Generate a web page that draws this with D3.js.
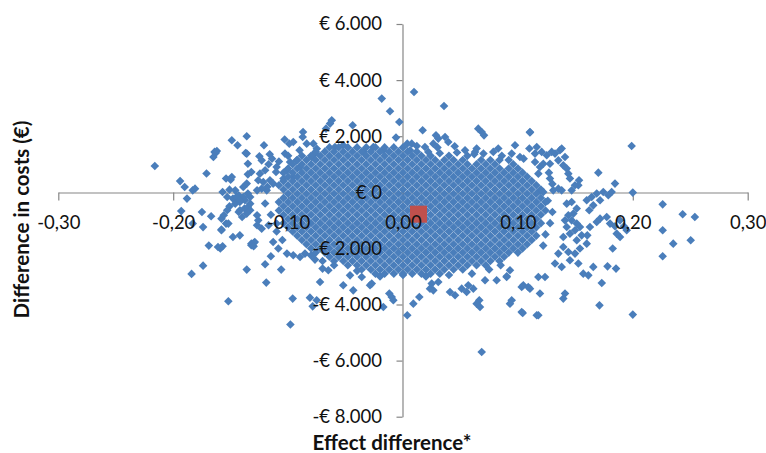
<!DOCTYPE html>
<html>
<head>
<meta charset="utf-8">
<script src="https://cdn.jsdelivr.net/npm/d3@7"></script>
<style>
  body { margin: 0; background: #fff; }
  svg { display: block; }
</style>
</head>
<body>
<svg id="chart" width="766" height="453"></svg>
<script>
// axis ticks
var xTicks = [-0.3, -0.2, -0.1, 0, 0.1, 0.2, 0.3];
var yTicks = [-8000, -6000, -4000, -2000, 0, 2000, 4000, 6000];

// mean of the bootstrap replications (red square)
var meanEffect = 0.0135;
var meanCost = -780;

// scattered replications read one by one: [effect difference, cost difference]
var outerPoints = [
  [-.216,940],[-.194,400],[-.190,190],[-.183,70],[-.181,130],[-.188,-225],[-.193,-670],[-.175,-700],[-.167,-855],
  [-.174,-1240],[-.183,-1115],[-.169,-1900],[-.159,-2005],[-.157,-1925],[-.161,-1950],[-.174,-2615],[-.184,-2910],
  [-.136,-2755],[-.152,-3885],[-.171,670],[-.164,1440],[-.162,1470],[-.149,1855],[-.144,1675],[-.136,2000],
  [-.136,1380],[-.135,1020],[-.154,490],[-.150,450],[-.157,10],[-.151,95],[-.146,70],[-.139,190],[-.136,310],
  [-.153,-170],[-.148,-225],[-.143,-105],[-.139,-170],[-.135,-45],[-.151,-500],[-.146,-405],[-.142,-345],
  [-.138,-580],[-.135,-525],[-.136,-760],[-.140,-880],[-.143,-700],[-.158,-940],[-.154,-1115],[-.158,-1330],
  [-.148,-1595],[-.142,-1535],[-.132,-1890],[-.130,-1805],[-.127,-1175],[-.126,-1000],
  [-.165,1260],[-.163,1400],[-.149,545],[-.137,1400],[-.135,640],[-.132,725],
  [-.125,1285],[-.123,1140],[-.116,1355],[-.114,1200],[-.110,900],[-.1105,725],[-.117,1000],[-.120,785],
  [-.1245,665],[-.126,430],[-.1216,365],[-.1158,430],[-.113,310],[-.1186,70],[-.123,130],[-.127,70],[-.121,1675],
  [-.103,1880],[-.099,1735],[-.0955,1795],[-.1027,1380],[-.0983,1080],[-.0925,1140],[-.101,785],[-.104,490],
  [-.0955,545],[-.0896,900],[-.087,2150],[-.0873,1970],[-.0838,1735],[-.078,1735],[-.0766,1380],[-.0795,1260],
  [-.0635,2450],[-.062,2565],[-.067,2270],
  [-.156,-820],[-.153,-640],[-.145,-170],[-.1375,-285],[-.133,-405],[-.142,-285],[-.133,-170],[-.1419,-640],[-.133,-640],
  [-.152,-1115],[-.158,-1355],[-.132,-1830],[-.129,-1770],[-.130,-1925],[-.120,-2565],[-.115,-2280],[-.119,-3220],
  [-.106,-2755],[-.096,-3790],[-.098,-4715],[-.113,-1770],[-.1085,-2005],[-.101,-2185],[-.0955,-2245],[-.0896,-2305],
  [-.0853,-2185],[-.0766,-2400],[-.070,-2720],[-.065,-2780],[-.0722,-3200],[-.081,-3755],[-.0786,-4065],[-.0751,-3850],
  [-.117,-1175],[-.110,-1115],[-.127,-820],[-.123,-1295],
  [.0096,3575],[-.0185,3340],[-.0113,2890],[-.0032,2505],[.0357,3075],[-.0438,2390],[.0171,2210],[-.0061,1950],
  [.0655,2270],[.0685,2150],[.0705,2030],[.1105,2150],[.0287,2030],[.0307,1915],[.0366,1970],[.0394,1795],
  [.0264,1735],[.0037,1735],[.0076,1735],[.0061,1500],[.0191,1615],[.022,1440],[.054,1500],[.0627,1440],
  [.0641,1560],[.0829,1560],[.0786,1440],[.0975,1675],[.1018,1260],[.11,1560],[.1149,1380],[.0946,1380],
  [-.0258,1615],[-.0345,1440],[-.0171,1500],[-.052,1675],[-.0592,1615],
  [.0685,-5695],[.0037,-4385],[.009,-3970],[.0142,-3730],[-.0098,-3730],[-.0119,-3610],[-.0084,-3850],[-.0171,-4090],
  [-.0287,-3315],[-.0272,-3255],[-.0359,-3020],[-.0461,-2960],[-.052,-3315],[-.0433,-3495],[.0235,-3435],[.0264,-3495],
  [.025,-3255],[.0307,-3200],[.0409,-3555],[.0453,-3670],[.0511,-3435],[.0554,-3555],[.0612,-3435],[.0568,-3315],
  [.0664,-3850],[.067,-4090],[.0641,-3970],[.0714,-3135],[.0815,-3135],[.0903,-2995],[.0946,-3850],[.0931,-3970],
  [.1042,-4305],[.1033,-3375],[.1105,-3435],[.1164,-4385],
  [.1105,2130],[.199,1650],[.170,700],[.1845,310],[.200,-10],[.226,-430],[.2434,-785],[.254,-880],[.226,-1355],
  [.2352,-1830],[.2504,-1710],[.226,-2280],[.200,-4360],[.171,-4030],[.173,-3235],[.178,-2640],[.1854,-2720],
  [.1825,-2005],[.1889,-1595],[.186,-1475],[.1947,-1355],[.1923,-1210],[.1889,-1000],[.1845,-1210],[.1802,-1115],
  [.1773,-880],[.1715,-940],[.1686,-1060],[.1627,-1235],[.1604,-1535],
  [.1599,-285],[.1642,-170],[.1686,-45],[.1743,10],[.1787,-105],[.1816,10],[.1715,-285],[.1656,-465],[.1621,-640],
  [.1532,430],[.1526,250],[.1497,250],[.1468,70],
  [.1366,1500],[.1323,1380],[.1352,1140],[.1395,960],[.1425,845],[.1439,665],[.1453,490],[.141,1260],[.1381,1560],
  [.1164,1615],[.1207,1440],[.1251,1320],[.1294,1440],[.1149,1080],[.1192,900],[.1221,1020],[.1279,1020],
  [.1178,665],[.1279,490],[.1192,70],[.1221,10],[.1308,70],[.1352,130],[.1381,70],
  [.1425,-405],[.1468,-345],[.1512,-580],[.1483,-760],[.1439,-820],[.141,-1000],[.1468,-1000],[.1512,-1115],
  [.154,-1235],[.1497,-1355],[.1425,-1235],[.1453,-1475],[.1395,-1595],[.1512,-1710],[.1555,-1535],[.1599,-1830],
  [.154,-2005],[.1497,-2185],[.1439,-2130],[.1395,-1950],[.1352,-2185],[.1453,-2425],[.1526,-2540],[.1569,-2900],
  [.1613,-2960],[.1656,-2660],[.1381,-2660],[.1323,-2540],
  [.1047,-3315],[.109,-3375],[.1192,-3610],[.1236,-3020],[.1178,-3020],[.141,-3610],[.1395,-3790],[.1033,-4265],
  [.1178,-4385],[.0931,-2780],[.0902,-3020],
  [.012,1650],[.03,1600],[.045,1640],[.07,1380],[.086,1300],[.105,1200],[.047,1420],[.062,1360],[.032,1390],
  [.126,-300],[.13,-700],[.128,-1100],[.124,-1500],[.122,-1900],[.13,300],[.127,700],
  [-.02,-3000],[0,-2950],[.02,-3000],[.04,-2950],[.06,-2900],[.075,-2750],[.085,-2600],[-.04,-2800],[-.06,-2600],
  [-.07,-2450],[-.08,-2250],[-.11,-1400],[-.105,-1700],[-.12,-400],[-.115,-800],[-.118,200],[-.108,1100],
  [-.1,1300],[-.09,1500],[-.075,1550]
];

// the solid centre of the cloud, estimated row by row: [cost difference, effect differences]
var coreRows = [
  [1600, [-.064,-.056,-.048,-.04,-.032,-.024,-.016,-.008,0]],
  [1450, [-.076,-.068,-.06,-.052,-.044,-.036,-.028,-.02,-.012,-.004,.004,.012]],
  [1300, [-.088,-.08,-.072,-.064,-.056,-.048,-.04,-.032,-.024,-.016,-.008,0,.008,.016,.024,.04,.056]],
  [1150, [-.092,-.084,-.076,-.068,-.06,-.052,-.044,-.036,-.028,-.02,-.012,-.004,.004,.012,.02,.028,.036,.044,.052,.068,.076,.084,.092]],
  [1000, [-.096,-.088,-.08,-.072,-.064,-.056,-.048,-.04,-.032,-.024,-.016,-.008,0,.008,.016,.024,.032,.04,.048,.056,.064,.072,.08,.096]],
  [850, [-.1,-.092,-.084,-.076,-.068,-.06,-.052,-.044,-.036,-.028,-.02,-.012,-.004,.004,.012,.02,.028,.036,.044,.052,.06,.068,.076,.084,.092,.1]],
  [700, [-.104,-.096,-.088,-.08,-.072,-.064,-.056,-.048,-.04,-.032,-.024,-.016,-.008,0,.008,.016,.024,.032,.04,.048,.056,.064,.072,.08,.088,.096,.104]],
  [550, [-.1,-.092,-.084,-.076,-.068,-.06,-.052,-.044,-.036,-.028,-.02,-.012,-.004,.004,.012,.02,.028,.036,.044,.052,.06,.068,.076,.084,.092,.1,.108]],
  [400, [-.104,-.096,-.088,-.08,-.072,-.064,-.056,-.048,-.04,-.032,-.024,-.016,-.008,0,.008,.016,.024,.032,.04,.048,.056,.064,.072,.08,.088,.096,.104,.112]],
  [250, [-.108,-.1,-.092,-.084,-.076,-.068,-.06,-.052,-.044,-.036,-.028,-.02,-.012,-.004,.004,.012,.02,.028,.036,.044,.052,.06,.068,.076,.084,.092,.1,.108,.116]],
  [100, [-.104,-.096,-.088,-.08,-.072,-.064,-.056,-.048,-.04,-.032,-.024,-.016,-.008,0,.008,.016,.024,.032,.04,.048,.056,.064,.072,.08,.088,.096,.104,.112,.12]],
  [-50, [-.1,-.092,-.084,-.076,-.068,-.06,-.052,-.044,-.036,-.028,-.02,-.012,-.004,.004,.012,.02,.028,.036,.044,.052,.06,.068,.076,.084,.092,.1,.108,.116]],
  [-200, [-.104,-.096,-.088,-.08,-.072,-.064,-.056,-.048,-.04,-.032,-.024,-.016,-.008,0,.008,.016,.024,.032,.04,.048,.056,.064,.072,.08,.088,.096,.104,.112,.12]],
  [-350, [-.108,-.1,-.092,-.084,-.076,-.068,-.06,-.052,-.044,-.036,-.028,-.02,-.012,-.004,.004,.012,.02,.028,.036,.044,.052,.06,.068,.076,.084,.092,.1,.108,.116,.124]],
  [-500, [-.104,-.096,-.088,-.08,-.072,-.064,-.056,-.048,-.04,-.032,-.024,-.016,-.008,0,.008,.016,.024,.032,.04,.048,.056,.064,.072,.08,.088,.096,.104,.112,.12]],
  [-650, [-.108,-.1,-.092,-.084,-.076,-.068,-.06,-.052,-.044,-.036,-.028,-.02,-.012,-.004,.004,.012,.02,.028,.036,.044,.052,.06,.068,.076,.084,.092,.1,.108,.116,.124]],
  [-800, [-.104,-.096,-.088,-.08,-.072,-.064,-.056,-.048,-.04,-.032,-.024,-.016,-.008,0,.008,.016,.024,.032,.04,.048,.056,.064,.072,.08,.088,.096,.104,.112,.12]],
  [-950, [-.1,-.092,-.084,-.076,-.068,-.06,-.052,-.044,-.036,-.028,-.02,-.012,-.004,.004,.012,.02,.028,.036,.044,.052,.06,.068,.076,.084,.092,.1,.108,.116]],
  [-1100, [-.104,-.096,-.088,-.08,-.072,-.064,-.056,-.048,-.04,-.032,-.024,-.016,-.008,0,.008,.016,.024,.032,.04,.048,.056,.064,.072,.08,.088,.096,.104,.112,.12]],
  [-1250, [-.1,-.092,-.084,-.076,-.068,-.06,-.052,-.044,-.036,-.028,-.02,-.012,-.004,.004,.012,.02,.028,.036,.044,.052,.06,.068,.076,.084,.092,.1,.108,.116]],
  [-1400, [-.096,-.088,-.08,-.072,-.064,-.056,-.048,-.04,-.032,-.024,-.016,-.008,0,.008,.016,.024,.032,.04,.048,.056,.064,.072,.08,.088,.096,.104,.112]],
  [-1550, [-.092,-.084,-.076,-.068,-.06,-.052,-.044,-.036,-.028,-.02,-.012,-.004,.004,.012,.02,.028,.036,.044,.052,.06,.068,.076,.084,.092,.1,.108,.116]],
  [-1700, [-.088,-.08,-.072,-.064,-.056,-.048,-.04,-.032,-.024,-.016,-.008,0,.008,.016,.024,.032,.04,.048,.056,.064,.072,.08,.088,.096,.104,.112]],
  [-1850, [-.084,-.076,-.068,-.06,-.052,-.044,-.036,-.028,-.02,-.012,-.004,.004,.012,.02,.028,.036,.044,.052,.06,.068,.076,.084,.092,.1,.108]],
  [-2000, [-.08,-.072,-.064,-.056,-.048,-.04,-.032,-.024,-.016,-.008,0,.008,.016,.024,.032,.04,.048,.056,.064,.072,.08,.088,.096,.104]],
  [-2150, [-.076,-.068,-.06,-.052,-.044,-.036,-.028,-.02,-.012,-.004,.004,.012,.02,.028,.036,.044,.052,.06,.068,.076,.084,.092,.1]],
  [-2300, [-.064,-.056,-.048,-.04,-.032,-.024,-.016,-.008,0,.008,.016,.024,.032,.04,.048,.056,.064,.072,.08,.088]],
  [-2450, [-.06,-.052,-.044,-.036,-.028,-.02,-.012,-.004,.004,.012,.02,.028,.036,.044,.052,.06,.068,.076,.084]],
  [-2600, [-.048,-.04,-.032,-.024,-.016,-.008,0,.008,.016,.024,.032,.04,.048,.056,.064,.072]],
  [-2750, [-.036,-.028,-.02,-.012,-.004,.004,.012,.02,.028,.036,.044,.052]],
  [-2900, [-.024,-.016,-.008,0,.008,.016,.024,.032]]
];

var points = outerPoints.concat(
  coreRows.flatMap(function (r) { return r[1].map(function (e) { return [e, r[0]]; }); })
);

var svg = d3.select("#chart");
var x = d3.scaleLinear().domain([-0.3, 0.3]).range([58.3, 747.7]);
var y = d3.scaleLinear().domain([-8000, 6000]).range([416.7, 24]);

var fmtX = function (v) { return d3.format(".2f")(v).replace("−", "-").replace(".", ","); };
var fmtY = function (v) {
  return (v < 0 ? "-" : "") + "€ " + d3.format(",")(Math.abs(v)).replace(/,/g, ".");
};

var axisColor = "#868686";
var textColor = "#111";
var font = "Lato, 'Open Sans', sans-serif";

/// axis lines (under the points)
svg.append("g")
  .attr("transform", "translate(0," + (Math.round(y(0)) + 0.5) + ")")
  .call(d3.axisBottom(x).tickValues(xTicks).tickSize(8).tickSizeOuter(0).tickFormat(""));
svg.append("g")
  .attr("transform", "translate(" + (Math.round(x(0)) - 0.5) + ",0)")
  .call(d3.axisLeft(y).tickValues(yTicks).tickSize(6).tickSizeOuter(0).tickFormat(""));
svg.selectAll(".domain, .tick line").attr("stroke", axisColor).attr("stroke-width", 1.2);

/// replications
var diamond = d3.symbol().type(d3.symbolSquare).size(37);
svg.append("g").selectAll("path")
  .data(points)
  .enter().append("path")
  .attr("d", diamond)
  .attr("transform", function (d) { return "translate(" + x(d[0]) + "," + y(d[1]) + ") rotate(45)"; })
  .attr("fill", "#4A7EBB");

/// mean
svg.append("path")
  .attr("d", d3.symbol().type(d3.symbolSquare).size(289))
  .attr("transform", "translate(" + x(meanEffect) + "," + y(meanCost) + ")")
  .attr("fill", "#C0504D");

/// tick labels, drawn on top of the points
var xLab = svg.append("g")
  .attr("transform", "translate(0," + y(0) + ")")
  .call(d3.axisBottom(x).tickValues(xTicks).tickSize(8).tickPadding(16).tickFormat(fmtX));
var yLab = svg.append("g")
  .attr("transform", "translate(" + x(0) + ",0)")
  .call(d3.axisLeft(y).tickValues(yTicks).tickSize(6).tickPadding(15).tickFormat(fmtY));
[xLab, yLab].forEach(function (g) {
  g.select(".domain").remove();
  g.selectAll("line").remove();
  g.attr("font-family", font).attr("font-size", 18.5);
  g.selectAll("text").attr("fill", textColor);
});

/// axis titles
svg.append("text")
  .attr("x", 392).attr("y", 450)
  .attr("text-anchor", "middle")
  .attr("font-family", font).attr("font-weight", "bold").attr("font-size", 20.5)
  .attr("fill", textColor)
  .text("Effect difference*");
svg.append("text")
  .attr("transform", "translate(29,219.5) rotate(-90)")
  .attr("text-anchor", "middle")
  .attr("font-family", font).attr("font-weight", "bold").attr("font-size", 20.5)
  .attr("fill", textColor)
  .text("Difference in costs (€)");
</script>
</body>
</html>
